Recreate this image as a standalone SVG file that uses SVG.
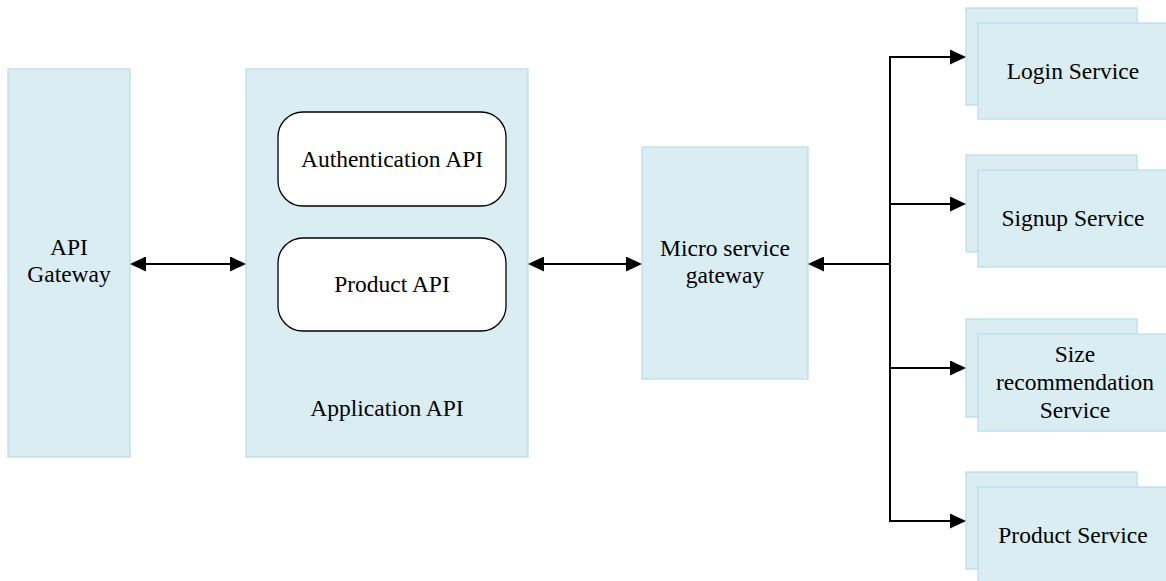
<svg xmlns="http://www.w3.org/2000/svg" width="1166" height="581" viewBox="0 0 1166 581">
  <style>
    .box { fill: #daedf3; stroke: #b7dde8; stroke-width: 1.2; }
    .api { fill: #ffffff; stroke: #000000; stroke-width: 1.3; }
    .lbl { font-family: 'Liberation Serif', serif; font-size: 23.5px; fill: #000000; text-anchor: middle; }
    .wire { fill: none; stroke: #000000; stroke-width: 2; }
  </style>
  <defs>
    <marker id="arrow" viewBox="0 0 16 15" refX="12" refY="7.5" markerWidth="16" markerHeight="15" markerUnits="userSpaceOnUse" orient="auto-start-reverse">
      <path d="M0,0 L16,7.5 L0,15 Z" fill="#000000"/>
    </marker>
  </defs>

  <rect width="1166" height="581" fill="#ffffff"/>

  <g id="api-gateway">
    <rect class="box" x="8" y="69" width="122" height="388"/>
    <text class="lbl" x="69" y="255">API</text>
    <text class="lbl" x="69" y="282">Gateway</text>
  </g>

  <g id="application-api">
    <rect class="box" x="246" y="69" width="282" height="388"/>
    <text class="lbl" x="387" y="416">Application API</text>
  </g>

  <g id="authentication-api">
    <rect class="api" x="278" y="112" width="228" height="94" rx="25" ry="25"/>
    <text class="lbl" x="392" y="167">Authentication API</text>
  </g>

  <g id="product-api">
    <rect class="api" x="278" y="238" width="228" height="93" rx="25" ry="25"/>
    <text class="lbl" x="392" y="292">Product API</text>
  </g>

  <g id="micro-service-gateway">
    <rect class="box" x="642" y="147" width="166" height="232"/>
    <text class="lbl" x="725" y="256">Micro service</text>
    <text class="lbl" x="725" y="283">gateway</text>
  </g>

  <g id="login-service">
    <rect class="box" x="966" y="8" width="171" height="97"/>
    <rect class="box" x="978" y="23" width="190" height="96"/>
    <text class="lbl" x="1073" y="79">Login Service</text>
  </g>

  <g id="signup-service">
    <rect class="box" x="966" y="155" width="171" height="97"/>
    <rect class="box" x="978" y="170" width="190" height="97"/>
    <text class="lbl" x="1073" y="226">Signup Service</text>
  </g>

  <g id="size-recommendation-service">
    <rect class="box" x="966" y="319" width="171" height="98"/>
    <rect class="box" x="978" y="334" width="190" height="97"/>
    <text class="lbl" x="1075" y="362">Size</text>
    <text class="lbl" x="1075" y="390">recommendation</text>
    <text class="lbl" x="1075" y="418">Service</text>
  </g>

  <g id="product-service">
    <rect class="box" x="966" y="472" width="171" height="97"/>
    <rect class="box" x="978" y="487" width="190" height="100"/>
    <text class="lbl" x="1073" y="543">Product Service</text>
  </g>

  <g id="connectors">
    <line class="wire" x1="134" y1="264" x2="242" y2="264" marker-start="url(#arrow)" marker-end="url(#arrow)"/>
    <line class="wire" x1="532" y1="264" x2="638" y2="264" marker-start="url(#arrow)" marker-end="url(#arrow)"/>
    <line class="wire" x1="890" y1="264" x2="812" y2="264" stroke-width="2.5" marker-end="url(#arrow)"/>
    <line class="wire" x1="890" y1="56" x2="890" y2="522"/>
    <line class="wire" x1="889" y1="57" x2="962" y2="57" marker-end="url(#arrow)"/>
    <line class="wire" x1="889" y1="204" x2="962" y2="204" marker-end="url(#arrow)"/>
    <line class="wire" x1="889" y1="368" x2="962" y2="368" marker-end="url(#arrow)"/>
    <line class="wire" x1="889" y1="521" x2="962" y2="521" marker-end="url(#arrow)"/>
  </g>
</svg>
